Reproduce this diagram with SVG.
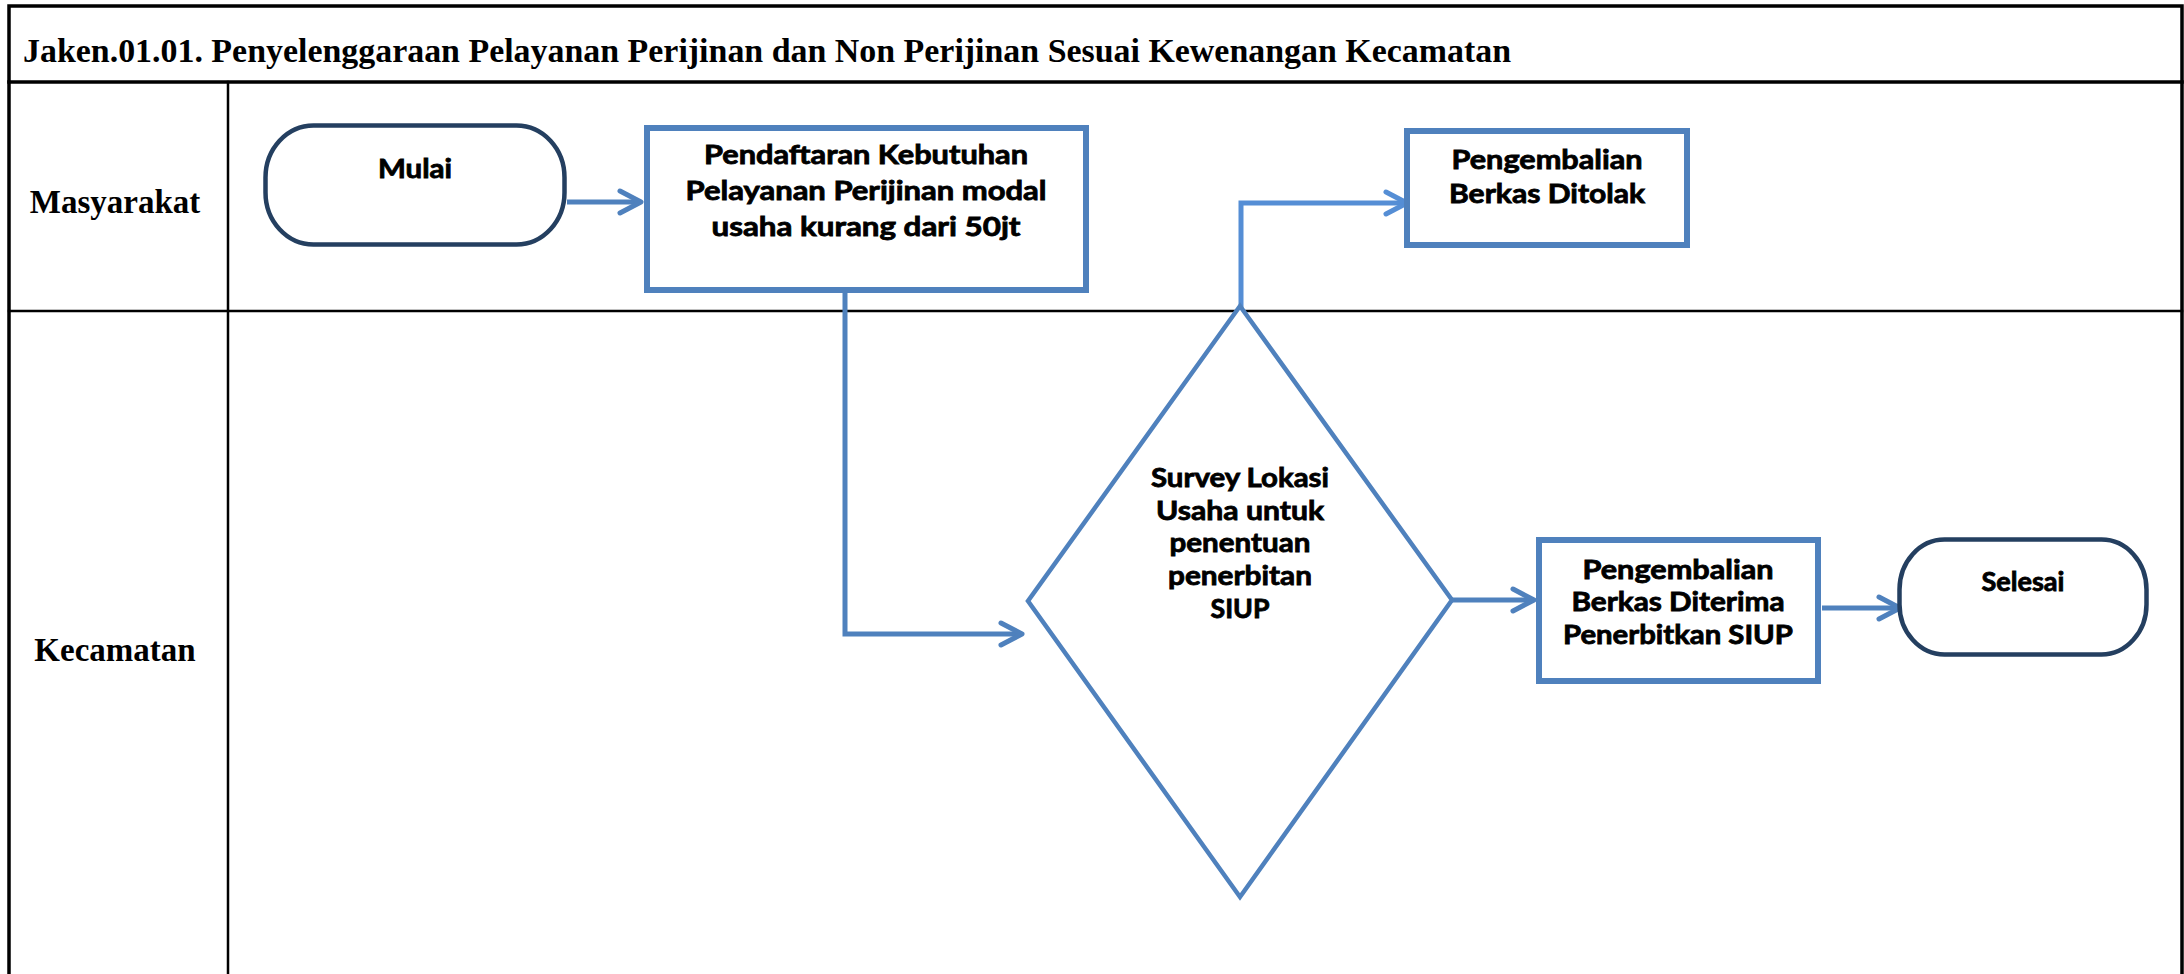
<svg xmlns="http://www.w3.org/2000/svg" width="2184" height="974" viewBox="0 0 2184 974">
  <style>
    .frame { fill: none; stroke: #000; stroke-linecap: square; }
    .title { font-family: "Liberation Serif", "DejaVu Serif", serif; font-weight: bold; font-size: 33px; fill: #000; }
    .lane { font-family: "Liberation Serif", "DejaVu Serif", serif; font-weight: bold; font-size: 33px; fill: #000; text-anchor: middle; }
    .box { fill: #fff; stroke: #4F81BD; stroke-width: 6; }
    .term { fill: #fff; stroke: #243F60; stroke-width: 4.5; }
    .dec { fill: #fff; stroke: #4F81BD; stroke-width: 4.5; }
    .lbl { font-family: Lato, "Open Sans", "Liberation Sans", sans-serif; font-weight: bold; font-size: 26px; fill: #000; stroke: #000; stroke-width: 0.8; text-anchor: middle; }
    .conn { fill: none; stroke: #4F81BD; stroke-width: 5; }
    .conn2 { fill: none; stroke: #558ED5; stroke-width: 5; }
  </style>
  <defs>
    <marker id="arrow" markerUnits="userSpaceOnUse" markerWidth="40" markerHeight="40" viewBox="-30 -20 40 40" refX="0" refY="0" orient="auto">
      <path d="M-21,-11 L0,0 L-21,11" fill="none" stroke="#4F81BD" stroke-width="5" stroke-linecap="round" stroke-linejoin="round"/>
    </marker>
    <marker id="arrow2" markerUnits="userSpaceOnUse" markerWidth="40" markerHeight="40" viewBox="-30 -20 40 40" refX="0" refY="0" orient="auto">
      <path d="M-21,-11 L0,0 L-21,11" fill="none" stroke="#558ED5" stroke-width="5" stroke-linecap="round" stroke-linejoin="round"/>
    </marker>
  </defs>

  <rect width="2184" height="974" fill="#fff"/>

  <!-- table frame and swimlanes -->
  <g id="frame">
    <path class="frame" stroke-width="3.5" d="M9,974 V6 H2182 V974"/>
    <line class="frame" stroke-width="3.5" x1="9" y1="82" x2="2182" y2="82"/>
    <line class="frame" stroke-width="2.5" x1="9" y1="311" x2="2182" y2="311"/>
    <line class="frame" stroke-width="2.5" x1="228" y1="82" x2="228" y2="974"/>
    <text class="title" x="23" y="62" textLength="1488" lengthAdjust="spacingAndGlyphs">Jaken.01.01. Penyelenggaraan Pelayanan Perijinan dan Non Perijinan Sesuai Kewenangan Kecamatan</text>
    <text class="lane" x="115" y="213">Masyarakat</text>
    <text class="lane" x="115" y="661">Kecamatan</text>
  </g>

  <!-- connectors -->
  <g id="connectors">
    <path class="conn" d="M567,202 H641" marker-end="url(#arrow)"/>
    <path class="conn" d="M845,290 V634 H1022" marker-end="url(#arrow)"/>
    <path class="conn2" d="M1248,345 H1241 V203 H1407" marker-end="url(#arrow2)"/>
    <path class="conn" d="M1452,600 H1534" marker-end="url(#arrow)"/>
    <path class="conn" d="M1822,608 H1900" marker-end="url(#arrow)"/>
  </g>

  <g id="mulai">
    <rect class="term" x="265.5" y="125.5" width="299" height="119" rx="48" ry="52"/>
    <text class="lbl" x="415" y="178" textLength="74" lengthAdjust="spacingAndGlyphs">Mulai</text>
  </g>

  <g id="pendaftaran">
    <rect class="box" x="647" y="128" width="439" height="162"/>
    <text class="lbl" x="866" y="164" textLength="324" lengthAdjust="spacingAndGlyphs">Pendaftaran Kebutuhan</text>
    <text class="lbl" x="866" y="200" textLength="361" lengthAdjust="spacingAndGlyphs">Pelayanan Perijinan modal</text>
    <text class="lbl" x="866" y="236" textLength="309" lengthAdjust="spacingAndGlyphs">usaha kurang dari 50jt</text>
  </g>

  <g id="survey">
    <polygon class="dec" points="1240,306 1452,600 1240,897 1028,601"/>
    <text class="lbl" x="1240" y="487" textLength="178" lengthAdjust="spacingAndGlyphs">Survey Lokasi</text>
    <text class="lbl" x="1240" y="520" textLength="168" lengthAdjust="spacingAndGlyphs">Usaha untuk</text>
    <text class="lbl" x="1240" y="552" textLength="141" lengthAdjust="spacingAndGlyphs">penentuan</text>
    <text class="lbl" x="1240" y="585" textLength="144" lengthAdjust="spacingAndGlyphs">penerbitan</text>
    <text class="lbl" x="1240" y="618" textLength="59" lengthAdjust="spacingAndGlyphs">SIUP</text>
  </g>

  <g id="ditolak">
    <rect class="box" x="1407" y="131" width="280" height="114"/>
    <text class="lbl" x="1547" y="169" textLength="191" lengthAdjust="spacingAndGlyphs">Pengembalian</text>
    <text class="lbl" x="1547" y="203" textLength="196" lengthAdjust="spacingAndGlyphs">Berkas Ditolak</text>
  </g>

  <g id="diterima">
    <rect class="box" x="1539" y="540" width="279" height="141"/>
    <text class="lbl" x="1678" y="579" textLength="191" lengthAdjust="spacingAndGlyphs">Pengembalian</text>
    <text class="lbl" x="1678" y="611" textLength="213" lengthAdjust="spacingAndGlyphs">Berkas Diterima</text>
    <text class="lbl" x="1678" y="644" textLength="230" lengthAdjust="spacingAndGlyphs">Penerbitkan SIUP</text>
  </g>

  <g id="selesai">
    <rect class="term" x="1899.5" y="539.5" width="247" height="115" rx="45" ry="50"/>
    <text class="lbl" x="2023" y="591" textLength="83" lengthAdjust="spacingAndGlyphs">Selesai</text>
  </g>
</svg>
